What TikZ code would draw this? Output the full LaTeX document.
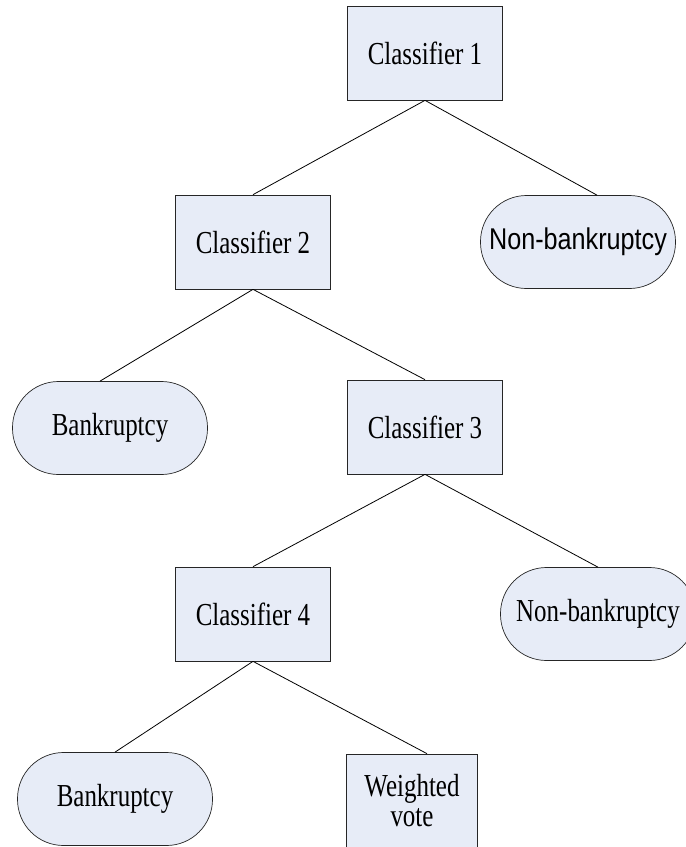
\documentclass[tikz,border=0pt]{standalone}
\usepackage{fontspec}
\setmainfont{Liberation Serif}
\newfontfamily\narrowserif[FakeStretch=0.78]{Liberation Serif}
\newfontfamily\narrowsans[FakeStretch=0.84]{Liberation Sans}
\usetikzlibrary{positioning}
\definecolor{boxfill}{HTML}{E7ECF7}

\begin{document}
\begin{tikzpicture}[node distance=187pt and 172pt,on grid]
  \clip (0pt,0pt) rectangle (686pt,-847pt);

\tikzset{classbox/.style={draw=black!85,line width=0.7pt,fill=boxfill,minimum width=155pt,minimum height=94pt,inner sep=2pt,align=center,font=\narrowserif\fontsize{32}{30}\selectfont}}
\tikzset{outcome/.style={classbox,minimum width=195pt,minimum height=93pt,rounded corners=46pt}}
\tikzset{branch/.style={draw=black,line width=0.8pt}}

  \node[classbox]  (C1) at (425pt,-53pt)          {Classifier 1};
  \node[classbox]  (C2) [below left =189pt and 172pt of C1]  {Classifier 2};
  \node[outcome]   (N1) [below right=189pt and 153pt of C1]  {\narrowsans\fontsize{30}{30}\selectfont Non-bankruptcy};
  \node[outcome]   (B1) [below left =186pt and 143pt of C2]  {Bankruptcy};
  \node[classbox]  (C3) [below right=185pt and 172pt of C2]  {Classifier 3};
  \node[classbox]  (C4) [below left =187pt and 172pt of C3]  {Classifier 4};
  \node[outcome]   (N2) [below right=187pt and 173pt of C3]  {Non-bankruptcy};
  \node[outcome]   (B2) [below left =185pt and 138pt of C4]  {Bankruptcy};
  \node[classbox,minimum width=131pt] (W) [below right=187pt and 159pt of C4] {Weighted\\vote};

\path (C1.south) edge [branch] (C2.north)
      (C1.south) edge [branch] ([xshift=19pt]N1.north)
      (C2.south) edge [branch] ([xshift=-10pt]B1.north)
      (C2.south) edge [branch] (C3.north)
      (C3.south) edge [branch] (C4.north)
      (C3.south) edge [branch] (N2.north)
      (C4.south) edge [branch] (B2.north)
      (C4.south) edge [branch] ([xshift=15pt]W.north);
\end{tikzpicture}
\end{document}
